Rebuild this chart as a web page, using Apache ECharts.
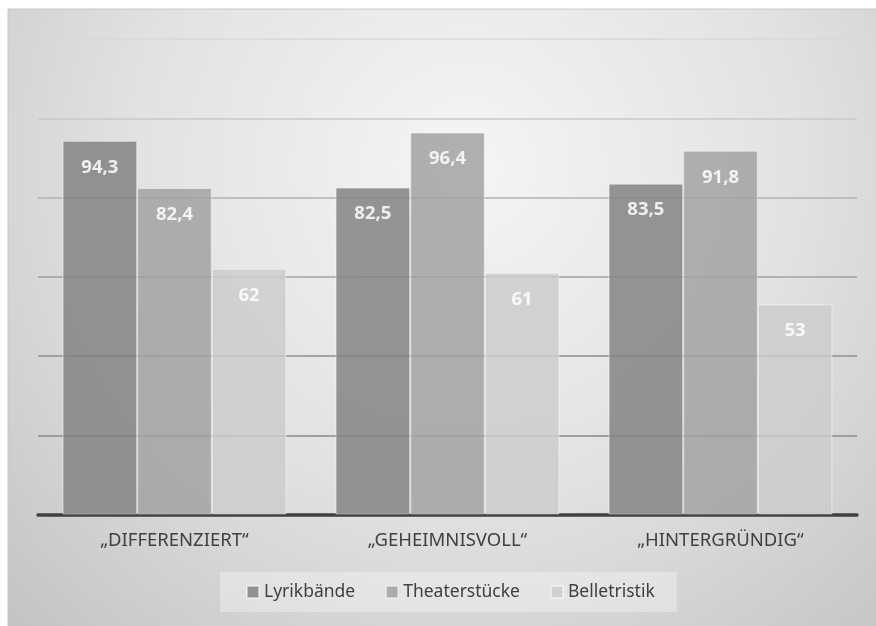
<!DOCTYPE html>
<html>
<head>
<meta charset="utf-8">
<script src="https://cdn.jsdelivr.net/npm/echarts@6/dist/echarts.min.js"></script>
<style>
  html, body { margin: 0; padding: 0; background: #ffffff; }
  #chart { width: 876px; height: 626px; }
</style>
</head>
<body>
<div id="chart"></div>
<script>
// Kategorien und Werte
const categories = ['„DIFFERENZIERT“', '„GEHEIMNISVOLL“', '„HINTERGRÜNDIG“'];
const seriesNames = ['Lyrikbände', 'Theaterstücke', 'Belletristik'];
const lyrikValues = [94.3, 82.5, 83.5];
const theaterValues = [82.4, 96.4, 91.8];
const belletristikValues = [62, 61, 53];
const seriesColors = ['#848484', '#a2a2a2', '#cdcdcd'];

const font = '"Noto Sans", "Open Sans", sans-serif';

function fmt(v) {
  return String(v).replace('.', ',');
}

function makeSeries(name, data, color) {
  return {
    name: name,
    type: 'bar',
    data: data,
    barGap: '0%',
    barCategoryGap: '18%',
    itemStyle: {
      color: color,
      opacity: 0.85,
      borderColor: 'rgba(255,255,255,0.55)',
      borderWidth: 1
    },
    label: {
      show: true,
      position: 'insideTop',
      distance: 17,
      color: '#ffffff',
      fontFamily: font,
      fontWeight: 'bold',
      fontSize: 18.5,
      formatter: p => fmt(p.value)
    }
  };
}

const chart = echarts.init(document.getElementById('chart'), null, { renderer: 'canvas' });

chart.setOption({
  animation: false,
  backgroundColor: '#ffffff',
  graphic: [{
    type: 'rect',
    z: -10,
    silent: true,
    shape: { x: 8, y: 9, width: 880, height: 630 },
    style: {
      fill: new echarts.graphic.RadialGradient(0.52, 0.25, 1.05, [
        { offset: 0, color: '#f5f5f5' },
        { offset: 0.5, color: '#e2e2e2' },
        { offset: 1, color: '#c2c2c2' }
      ]),
      stroke: '#c8c8c8',
      lineWidth: 1
    }
  }],
  grid: { left: 38, right: 19, top: 39, bottom: 111.5, containLabel: false },
  legend: {
    data: seriesNames,
    left: 220,
    top: 572,
    padding: [11, 22, 11, 26],
    itemGap: 30,
    itemWidth: 12,
    itemHeight: 12,
    icon: 'rect',
    backgroundColor: 'rgba(255,255,255,0.32)',
    textStyle: { fontFamily: font, fontSize: 17.5, color: '#404040' }
  },
  xAxis: {
    type: 'category',
    data: categories,
    axisLine: { show: true, lineStyle: { color: '#404040', width: 3.5 } },
    axisTick: { show: false },
    axisLabel: { margin: 17, fontFamily: font, fontSize: 18.5, color: '#404040' }
  },
  yAxis: {
    type: 'value',
    min: 0,
    max: 120,
    interval: 20,
    axisLabel: { show: false },
    axisLine: { show: false },
    axisTick: { show: false },
    splitLine: {
      show: true,
      lineStyle: {
        width: 1.5,
        color: ['#8a8a8a', '#8a8a8a', '#8e8e8e', '#a0a0a0', '#b2b2b2', '#c8c8c8', '#d8d8d8']
      }
    }
  },
  series: [
    makeSeries(seriesNames[0], lyrikValues, seriesColors[0]),
    makeSeries(seriesNames[1], theaterValues, seriesColors[1]),
    makeSeries(seriesNames[2], belletristikValues, seriesColors[2])
  ]
});
</script>
</body>
</html>
